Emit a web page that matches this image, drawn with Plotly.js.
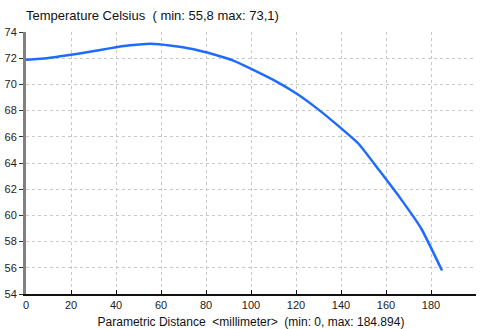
<!DOCTYPE html>
<html>
<head>
<meta charset="utf-8">
<script src="https://cdn.plot.ly/plotly-3.0.1.min.js"></script>
<style>html,body{margin:0;padding:0;background:#fff;}#chart{width:481px;height:329px;}</style>
</head>
<body>
<div id="chart"></div>
<script>
var distance = [0, 9.24, 18.49, 27.73, 36.98, 46.22, 55.47, 64.71, 73.96, 83.20, 92.45, 101.69, 110.94, 120.18, 129.43, 138.67, 147.92, 157.16, 166.41, 175.65, 184.89];
var temperature = [71.88, 72.0, 72.22, 72.47, 72.75, 72.98, 73.1, 72.95, 72.7, 72.3, 71.8, 71.05, 70.25, 69.3, 68.15, 66.85, 65.45, 63.4, 61.3, 59.0, 55.8];
var xTicks = [0, 20, 40, 60, 80, 100, 120, 140, 160, 180, 200];
var yTicks = [54, 56, 58, 60, 62, 64, 66, 68, 70, 72, 74];

var trace = {
  x: distance, y: temperature, type: 'scatter', mode: 'lines',
  line: {color: '#1f6bff', width: 2.5, shape: 'spline', smoothing: 0.4}, hoverinfo: 'none'
};
var tickFont = {family: 'Liberation Sans, Arial, sans-serif', size: 11, color: '#222'};
var layout = {
  width: 481, height: 329,
  margin: {l: 26, r: 5, t: 32, b: 35},
  paper_bgcolor: '#fff', plot_bgcolor: '#fff',
  showlegend: false,
  title: {
    text: 'Temperature Celsius  ( min: 55,8 max: 73,1)',
    font: {family: 'Liberation Sans, Arial, sans-serif', size: 13, color: '#111'},
    xref: 'paper', x: 0, xanchor: 'left',
    yref: 'container', y: 1 - 15/329, yanchor: 'middle'
  },
  xaxis: {
    range: [0, 200], tickvals: xTicks, ticktext: xTicks.map(String),
    showgrid: true, gridcolor: '#c8c8c8', griddash: 'dot', gridwidth: 1,
    zeroline: false, showline: true, linecolor: '#111', linewidth: 1.5,
    ticks: 'inside', ticklen: 4, tickcolor: '#111', tickfont: tickFont,
    title: {text: 'Parametric Distance  <millimeter>  (min: 0, max: 184.894)',
      font: {family: 'Liberation Sans, Arial, sans-serif', size: 12, color: '#111'}, standoff: 8},
    fixedrange: true
  },
  yaxis: {
    range: [54, 74], tickvals: yTicks, ticktext: yTicks.map(String),
    showgrid: true, gridcolor: '#c8c8c8', griddash: 'dot', gridwidth: 1,
    zeroline: false, showline: true, linecolor: '#808080', linewidth: 3,
    ticks: 'outside', ticklen: 4, tickcolor: '#333', tickfont: tickFont,
    fixedrange: true
  }
};
Plotly.newPlot('chart', [trace], layout, {displayModeBar: false, staticPlot: true});
</script>
</body>
</html>
